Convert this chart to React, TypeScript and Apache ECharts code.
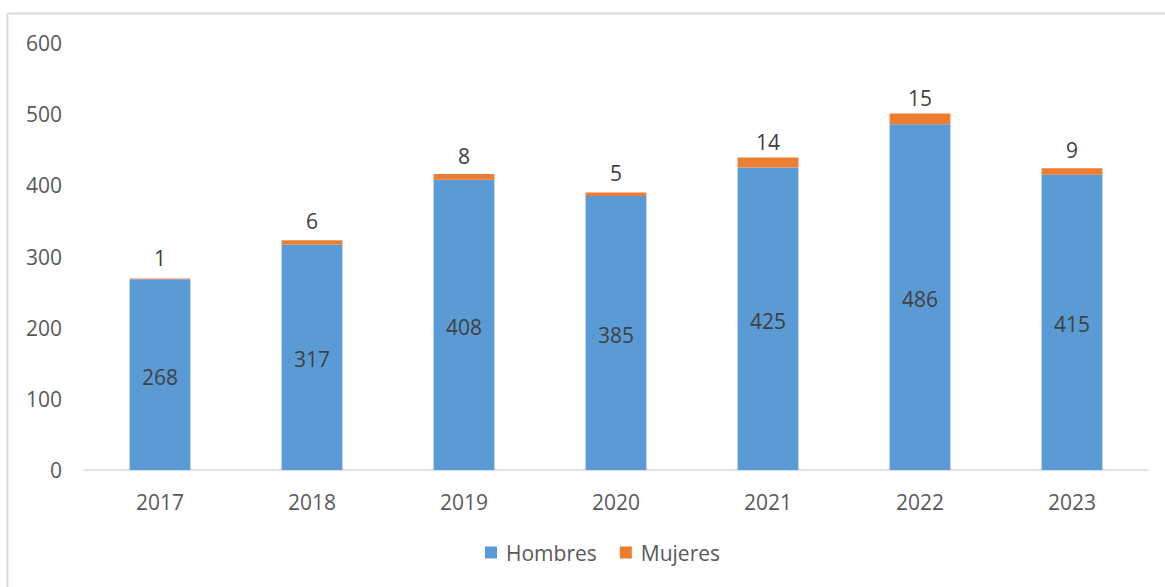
import React, { useEffect, useRef } from "react";
import * as echarts from "echarts";

const years = ["2017", "2018", "2019", "2020", "2021", "2022", "2023"];
const hombres = [268, 317, 408, 385, 425, 486, 415];
const mujeres = [1, 6, 8, 5, 14, 15, 9];
const seriesNames = ["Hombres", "Mujeres"];

const FONT = "'Open Sans', 'Noto Sans', sans-serif";
const FS = 21;

export default function App() {
  const ref = useRef<HTMLDivElement>(null);
  useEffect(() => {
    if (!ref.current) return;
    const chart = echarts.init(ref.current, null, { renderer: "svg" });
    chart.setOption({
      animation: false,
      backgroundColor: "#ffffff",
      textStyle: { fontFamily: FONT },
      grid: { left: 84, right: 17, top: 43, bottom: 117, containLabel: false },
      legend: {
        data: seriesNames,
        bottom: 19,
        left: 480,
        icon: "rect",
        itemWidth: 12,
        itemHeight: 12,
        itemGap: 23,
        textStyle: {
          fontFamily: FONT,
          fontSize: 21,
          color: "#595959",
          padding: [0, 0, 0, 4],
        },
      },
      xAxis: {
        type: "category",
        data: years,
        axisLine: { show: true, lineStyle: { color: "#D9D9D9", width: 1.5 } },
        axisTick: { show: false },
        axisLabel: { fontFamily: FONT, fontSize: FS, color: "#595959", margin: 21 },
      },
      yAxis: {
        type: "value",
        min: 0,
        max: 600,
        interval: 100,
        axisLine: { show: false },
        axisTick: { show: false },
        splitLine: { show: false },
        axisLabel: { fontFamily: FONT, fontSize: FS, color: "#595959", margin: 22 },
      },
      series: [
        {
          name: seriesNames[0],
          type: "bar",
          stack: "total",
          data: hombres,
          barWidth: "40%",
          itemStyle: { color: "#5B9BD5" },
          label: {
            show: true,
            position: "inside",
            offset: [0, 2],
            fontFamily: FONT,
            fontSize: FS,
            color: "#404040",
          },
        },
        {
          name: seriesNames[1],
          type: "bar",
          stack: "total",
          data: mujeres,
          barWidth: "40%",
          itemStyle: { color: "#ED7D31" },
          label: {
            show: true,
            position: "inside",
            offset: [0, -21],
            fontFamily: FONT,
            fontSize: FS,
            color: "#404040",
          },
        },
      ],
      graphic: [
        {
          type: "line",
          shape: { x1: 7.5, y1: 13.5, x2: 1165, y2: 13.5 },
          style: { stroke: "#D9D9D9", lineWidth: 2 },
        },
        {
          type: "line",
          shape: { x1: 7.5, y1: 13.5, x2: 7.5, y2: 587 },
          style: { stroke: "#D9D9D9", lineWidth: 2 },
        },
      ],
    });
    return () => chart.dispose();
  }, []);
  return (
    <div
      ref={ref}
      style={{ position: "fixed", left: 0, top: 0, width: 1165, height: 587 }}
    />
  );
}
